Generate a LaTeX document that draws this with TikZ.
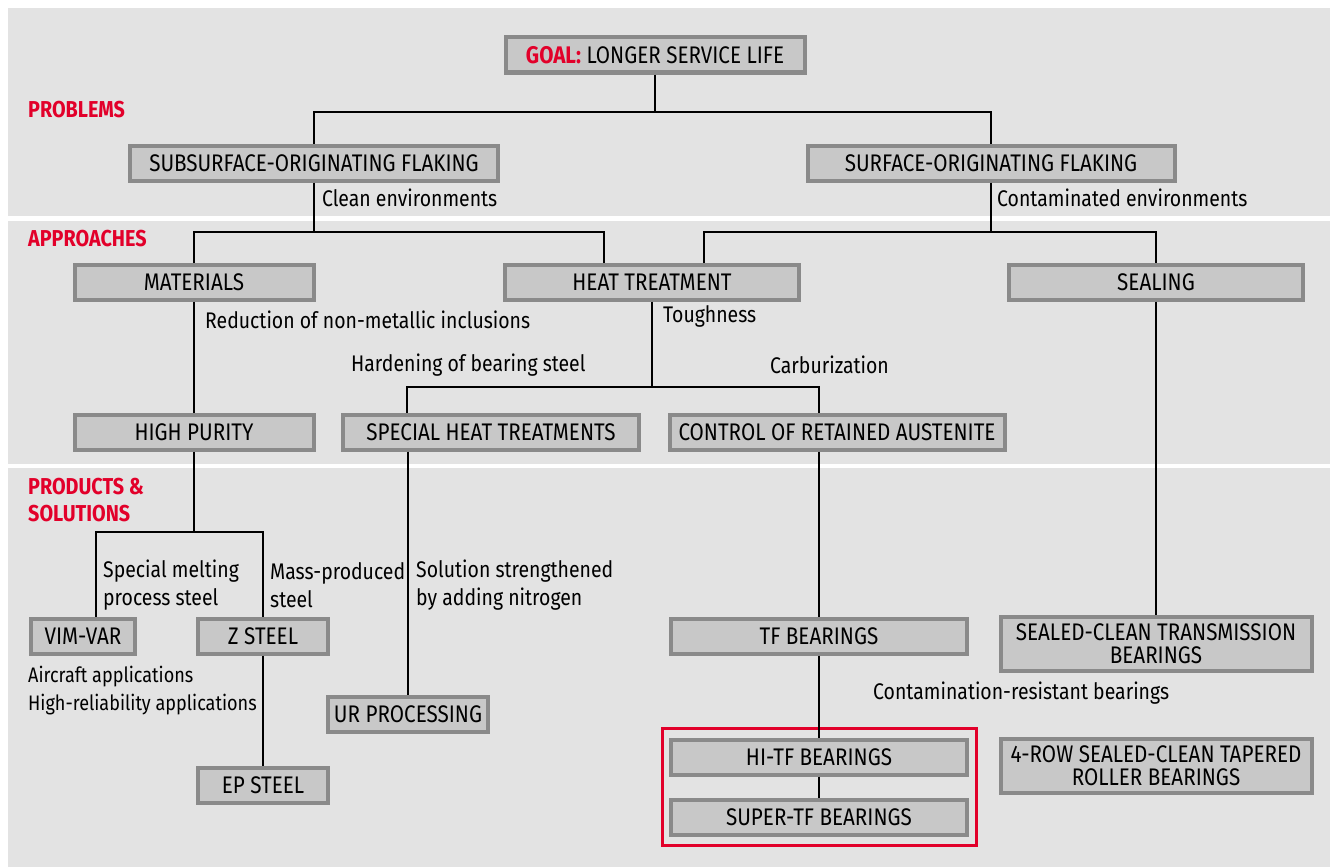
\documentclass[tikz,border=0pt]{standalone}
\usepackage{fontspec}
\setmainfont{Fira Sans}[FakeStretch=0.86]
\usetikzlibrary{positioning}

\definecolor{bggray}{HTML}{E3E3E3}
\definecolor{boxfill}{HTML}{C8C8C8}
\definecolor{boxline}{HTML}{8A8A8A}
\definecolor{nskred}{HTML}{E2002A}
\newcommand\boxtxt{\fontsize{24}{23}\selectfont}
\newcommand\lbltxt{\fontsize{22.6}{28}\selectfont}
\newcommand\sectxt{\fontsize{23}{27}\selectfont\bfseries}

\begin{document}
\begin{tikzpicture}
[
x=1pt, y=-1pt,
box/.style={draw=boxline, line width=4pt, fill=boxfill, minimum height=35pt, inner sep=0pt, align=center, font=\boxtxt},
lbl/.style={anchor=west, inner sep=0pt, align=left, font=\lbltxt},
sec/.style={anchor=west, inner sep=0pt, align=left, text=nskred, font=\sectxt},
wire/.style={line width=1.6pt},
]
\useasboundingbox (0,0) rectangle (1330,867);
% bands
\fill[bggray] (8,8) rectangle (1330,216);
\fill[bggray] (8,221) rectangle (1330,464);
\fill[bggray] (8,468) rectangle (1330,867);

\node[sec] (problems) at (28,110) {PROBLEMS};
\node[sec] (approaches) at (28,239) {APPROACHES};
\node[sec] (products) at (28,500) {PRODUCTS \&\\SOLUTIONS};

% boxes
\node[box, minimum width=299pt] (goal) at (655,55) {\textcolor{nskred}{\bfseries GOAL:} LONGER SERVICE LIFE};
\node[box, minimum width=368pt] (subsurf) at (314,163) {SUBSURFACE-ORIGINATING FLAKING};
\node[box, minimum width=367pt] (surf) at (991,163) {SURFACE-ORIGINATING FLAKING};
\node[box, minimum width=239pt] (materials) at (194,282) {MATERIALS};
\node[box, minimum width=294pt] (heat) at (652,282) {HEAT TREATMENT};
\node[box, minimum width=294pt] (sealing) at (1156,282) {SEALING};
\node[box, minimum width=239pt] (purity) at (194,432) {HIGH PURITY};
\node[box, minimum width=296pt] (special) at (491,432) {SPECIAL HEAT TREATMENTS};
\node[box, minimum width=335pt] (austenite) at (837,432) {CONTROL OF RETAINED AUSTENITE};
\node[box, minimum width=104pt] (vimvar) at (83,636) {VIM-VAR};
\node[box, minimum width=130pt] (zsteel) at (263,636) {Z STEEL};
\node[box, minimum width=130pt] (epsteel) at (263,785) {EP STEEL};
\node[box, minimum width=160pt] (ur) at (408,714) {UR PROCESSING};
\node[box, minimum width=296pt] (tf) at (819,636) {TF BEARINGS};
\node[box, minimum width=311pt, minimum height=54pt] (sealedclean) at (1156,644) {SEALED-CLEAN TRANSMISSION\\BEARINGS};
\node[box, minimum width=296pt] (hitf) at (819,757) {HI-TF BEARINGS};
\node[box, minimum width=296pt] (supertf) at (819,817) {SUPER-TF BEARINGS};
\node[box, minimum width=311pt, minimum height=54pt] (fourrow) at (1156,766) {4-ROW SEALED-CLEAN TAPERED\\ROLLER BEARINGS};
\draw[nskred, line width=3pt] (662,728) rectangle (976,845);

% connectors
\draw[wire] (goal.south) -- ++(0,37.5) -| (subsurf.north);
\draw[wire] (goal.south) ++(0,37.5) -| (surf.north);
\draw[wire] (subsurf.south) -- ++(0,49.5) -| (materials.north);
\draw[wire] (subsurf.south) ++(0,49.5) -| ([xshift=-48pt]heat.north);
\draw[wire] (surf.south) -- ++(0,49.5) -| ([xshift=52pt]heat.north);
\draw[wire] (surf.south) ++(0,49.5) -| (sealing.north);
\draw[wire] (materials.south) -- (purity.north);
\draw[wire] (heat.south) -- ++(0,85.5) -| ([xshift=-84pt]special.north);
\draw[wire] (heat.south) ++(0,85.5) -| ([xshift=-18pt]austenite.north);
\draw[wire] (sealing.south) -- (sealedclean.north);
\draw[wire] (purity.south) -- ++(0,80.5) -| ([xshift=13pt]vimvar.north);
\draw[wire] (purity.south) ++(0,80.5) -| (zsteel.north);
\draw[wire] (zsteel.south) -- (epsteel.north);
\draw[wire] ([xshift=-83pt]special.south) -- (ur.north);
\draw[wire] ([xshift=-18pt]austenite.south) -- (tf.north);
\draw[wire] (tf.south) -- (hitf.north);
\draw[wire] (hitf.south) -- (supertf.north);

% labels
\node[lbl] (cleanlbl) at (322,198) {Clean environments};
\node[lbl] (contlbl) at (997,198) {Contaminated environments};
\node[lbl] (reducelbl) at (205,320) {Reduction of non-metallic inclusions};
\node[lbl] (toughlbl) at (663,316) {Toughness};
\node[lbl] (hardlbl) at (351,365) {Hardening of bearing steel};
\node[lbl] (carblbl) at (770,365) {Carburization};
\node[lbl] (meltlbl) at (103,585) {Special melting\\process steel};
\node[lbl] (masslbl) at (270,585) {Mass-produced\\steel};
\node[lbl] (nitrolbl) at (416,585) {Solution strengthened\\by adding nitrogen};
\node[lbl, font=\fontsize{21}{28}\selectfont] (applbl) at (28,691) {Aircraft applications\\High-reliability applications};
\node[lbl] (resistlbl) at (873,693) {Contamination-resistant bearings};
\end{tikzpicture}
\end{document}
